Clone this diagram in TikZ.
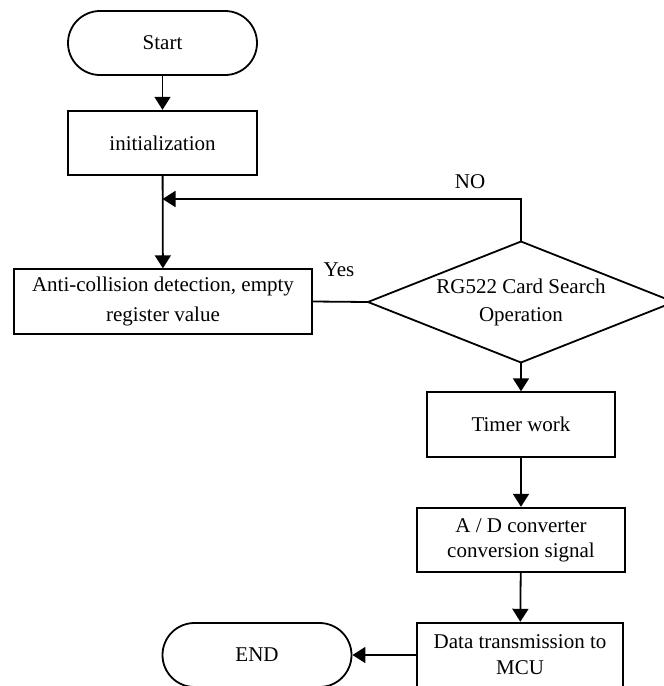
\documentclass[tikz,border=0pt]{standalone}
\usepackage{fontspec}
\setmainfont{Liberation Serif}
\usetikzlibrary{arrows.meta}
\tikzset{
  base/.style={draw,line width=0.9pt,align=center,font=\fontsize{10.5pt}{13pt}\selectfont,inner sep=0pt},
  term/.style={base,rectangle,rounded corners=16pt,minimum width=94.5pt,minimum height=32pt},
  proc/.style={base,rectangle,minimum height=32.3pt},
  conn/.style={line width=0.9pt},
  arr/.style={conn,-{Triangle[length=6.5pt,width=8pt]}},
  lbl/.style={font=\fontsize{10.5pt}{13pt}\selectfont,inner sep=0pt}
}
\begin{document}
\begin{tikzpicture}[x=0.5pt,y=-0.5pt]
\useasboundingbox (0,0) rectangle (664,686);
\node[term] (start) at (162.5,43) {Start};
\node[proc,minimum width=94.5pt] (init) at (162.5,143) {initialization};
\node[proc,minimum width=149pt,font=\fontsize{10.5pt}{15pt}\selectfont] (anti) at (163,301.5) {Anti-collision detection, empty\\register value};
% decision diamond
\coordinate (dn) at (521,241.5);
\coordinate (ds) at (521,362.5);
\coordinate (dw) at (368,302);
\coordinate (de) at (674,302);
\draw[conn,line join=miter] (dn) -- (de) -- (ds) -- (dw) -- cycle;
\node[align=center,font=\fontsize{10.5pt}{14pt}\selectfont,inner sep=0pt] (dia) at (521,302) {RG522 Card Search\\Operation};
\node[proc,minimum width=94pt] (timer) at (521,424.5) {Timer work};
\node[proc,minimum width=104pt,font=\fontsize{10.5pt}{12.5pt}\selectfont] (ad) at (521,540) {A / D converter\\conversion signal};
\node[proc,minimum width=103pt,font=\fontsize{10.5pt}{13pt}\selectfont] (data) at (520,655) {Data transmission to\\MCU};
\node[term] (end) at (257,655) {END};
\coordinate (j) at (162.5,199);
\draw[arr] (start) -- (init);
\draw[arr] (init) -- (anti);
\draw[arr] (dn) |- (j);
\draw[conn] (dw) -- (anti.east);
\draw[arr] (ds) -- (timer.north);
\draw[arr] (timer) -- (ad);
\draw[arr] (ad) -- (data);
\draw[arr] (data) -- (end);
\node[lbl] (no) at (470,182) {NO};
\node[lbl] (yes) at (339,270) {Yes};
\end{tikzpicture}
\end{document}
